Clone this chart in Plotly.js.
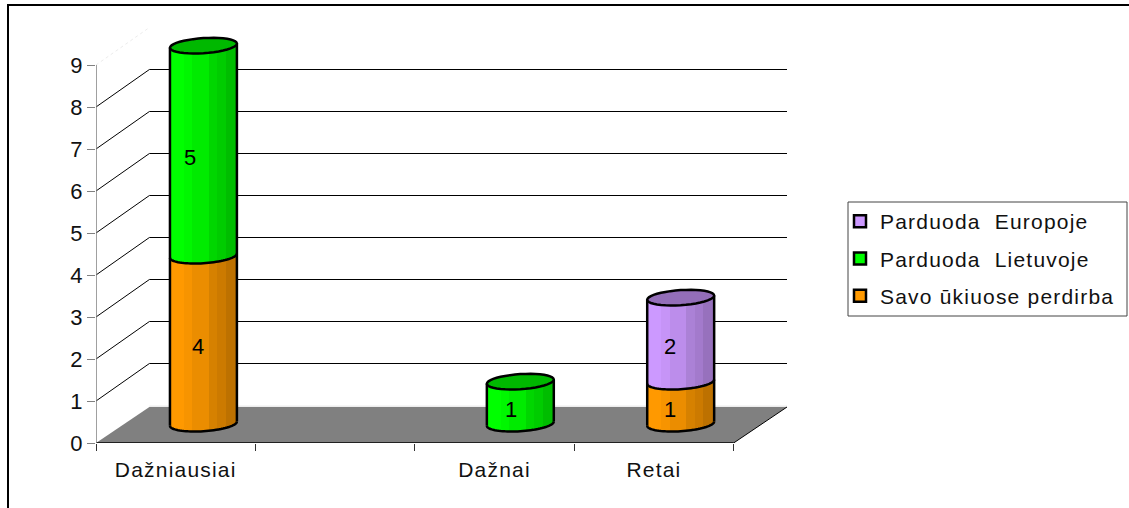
<!DOCTYPE html>
<html>
<head>
<meta charset="utf-8">
<script src="https://cdn.plot.ly/plotly-3.0.1.min.js"></script>
<style>
html,body{margin:0;padding:0;background:#fff;overflow:hidden}
#chart{width:1129px;height:508px}
.xtick text,.legendtext{letter-spacing:1.2px}
#chart .bars path{shape-rendering:crispEdges !important}
</style>
</head>
<body>
<div id="chart"></div>
<script>
// ---------- data ----------
const categories = ['Dažniausiai', ' ', 'Dažnai', 'Retai'];
const savo = [4, 0, 0, 1];
const lietuvoje = [5, 0, 1, 0];
const europoje = [0, 0, 0, 2];
const yTicks = [0, 1, 2, 3, 4, 5, 6, 7, 8, 9];
const seriesNames = ['Savo ūkiuose perdirba', 'Parduoda  Lietuvoje', 'Parduoda  Europoje'];
const seriesValues = [savo, lietuvoje, europoje];
const seriesRGB = [[255, 153, 0], [0, 255, 0], [204, 153, 255]];
const labelShiftSavo = [-0.035, 0, 0, -0.065];
const labelShiftLietuvoje = [-0.085, 0, -0.06, 0];
const labelShiftEuropoje = [0, 0, 0, -0.065];
const labelShifts = [labelShiftSavo, labelShiftLietuvoje, labelShiftEuropoje];

// ---------- pseudo-3D geometry, in axis units ----------
const depthX = 0.335, gridDepthY = 0.8929, floorDepthY = 0.857;
const barCentreShifts = [0.174, 0, 0.162, 0.168], barHalf = 0.21;
const capRy = 0.18, capTilt = 0.05, barBase = 0.46;
const N = 24;
const slotLo = -0.5, slotHi = categories.length - 0.5;
const bands = [[-1.0,1.0],[-0.55,0.97],[-0.3,0.92],[0.2,0.84],[0.45,0.80],[0.7,0.74]];
const shade = t => { let f = 1; bands.forEach(b => { if (t >= b[0]) f = b[1]; }); return f; };
const col = (rgb, f) => `rgb(${rgb.map(c => Math.round(c * f)).join(',')})`;

// ---------- traces ----------
const traces = [];
[2, 1, 0].forEach(s => traces.push({
  type: 'bar', name: seriesNames[s], legendgroup: seriesNames[s],
  x: [categories[0]], y: [null],
  marker: {color: col(seriesRGB[s], 1), line: {color: '#000', width: 2.5}}
}));
const cum = categories.map(() => 0);
const stackBase = seriesValues.map(v => {
  const b = cum.slice();
  v.forEach((d, i) => cum[i] += d);
  return b;
});
seriesValues.forEach((vals, s) => {
  for (let k = 0; k < N; k++) {
    const t = -1 + (2 * k + 1) / N;
    const curve = capTilt * t - capRy * Math.sqrt(1 - t * t);
    traces.push({
      type: 'bar', showlegend: false, legendgroup: seriesNames[s],
      x: categories, y: vals,
      base: stackBase[s].map(b => b + barBase + curve),
      width: 2 * barHalf / N * 1.15,
      offset: barCentreShifts.map(c => c + barHalf * (t - 1 / N)),
      marker: {color: col(seriesRGB[s], shade(t)), line: {width: 0}}
    });
  }
});

// ---------- scaffold shapes ----------
const shapes = [];
const line = (x0, y0, x1, y1, color, width, layer, dash) => shapes.push({
  type: 'line', xref: 'x', yref: 'y', x0, y0, x1, y1, layer: layer || 'below',
  line: {color, width, dash: dash || 'solid'}
});
shapes.push({
  type: 'path', xref: 'x', yref: 'y', layer: 'below', fillcolor: '#808080', line: {width: 0},
  path: `M${slotLo},0L${slotHi},0L${slotHi + depthX},${floorDepthY}L${slotLo + depthX},${floorDepthY}Z`
});
yTicks.forEach(v => {
  if (v === 0) return;
  const top = v === yTicks[yTicks.length - 1];
  const c = top ? '#ececec' : '#000';
  line(slotLo, v, slotLo + depthX, v + gridDepthY, c, 1, 'below', top ? 'dot' : 'solid');
  line(slotLo + depthX, v + gridDepthY, slotHi + depthX, v + gridDepthY, c, 1);
});
line(slotLo + depthX, floorDepthY + 0.02, slotHi + depthX, floorDepthY + 0.02, '#e4e4e4', 1);
line(slotLo, 0, slotHi, 0, '#000', 1.5);
line(slotHi, 0, slotHi + depthX, floorDepthY, '#000', 1);
line(slotLo, 0, slotLo, yTicks[yTicks.length - 1], '#808080', 1.5);

// ---------- cylinder outlines and caps ----------
const arc = (cx, cy, a, b) => {
  let p = '';
  for (let i = 0; i <= 40; i++) {
    const t = a + (b - a) * i / 40;
    p += (i ? 'L' : 'M') + (cx + barHalf * Math.cos(t)).toFixed(4) + ',' +
      (cy + capTilt * Math.cos(t) + capRy * Math.sin(t)).toFixed(4);
  }
  return p;
};
const outline = {color: '#000', width: 2.5};
categories.forEach((c, i) => {
  if (cum[i] === 0) return;
  const cx = i + barCentreShifts[i];
  const y0 = barBase, yTop = barBase + cum[i];
  let top = 0;
  seriesValues.forEach((v, s) => { if (v[i] > 0) top = s; });
  shapes.push({type: 'path', xref: 'x', yref: 'y', layer: 'above', line: outline,
    path: arc(cx, y0, Math.PI, 2 * Math.PI)});
  seriesValues.forEach((v, s) => {
    if (v[i] > 0 && s !== top) shapes.push({type: 'path', xref: 'x', yref: 'y', layer: 'above', line: outline,
      path: arc(cx, y0 + stackBase[s][i] + v[i], Math.PI, 2 * Math.PI)});
  });
  line(cx - barHalf, y0 - capTilt, cx - barHalf, yTop - capTilt, '#000', 2.5, 'above');
  line(cx + barHalf, y0 + capTilt, cx + barHalf, yTop + capTilt, '#000', 2.5, 'above');
  shapes.push({type: 'path', xref: 'x', yref: 'y', layer: 'above', line: outline,
    fillcolor: col(seriesRGB[top], 0.72),
    path: arc(cx, yTop, 0, 2 * Math.PI) + 'Z'});
});

// frame and legend box
const W = 1129, H = 508, L = 96, R = 787, T = 28, B = 443;
const px = x => (x - L) / (R - L), py = y => (B - y) / (B - T);
shapes.push({type: 'line', xref: 'paper', yref: 'paper', x0: px(7), y0: py(5), x1: px(W), y1: py(5), layer: 'above', line: {color: '#000', width: 2}});
shapes.push({type: 'line', xref: 'paper', yref: 'paper', x0: px(8), y0: py(4), x1: px(8), y1: py(H), layer: 'above', line: {color: '#000', width: 2}});
shapes.push({type: 'rect', xref: 'paper', yref: 'paper', x0: px(848), y0: py(202), x1: px(1127), y1: py(316), layer: 'above', line: {color: '#444', width: 1}});

// ---------- value labels ----------
const annotations = [];
seriesValues.forEach((v, s) => v.forEach((d, i) => {
  if (d > 0) annotations.push({
    x: i + barCentreShifts[i] + labelShifts[s][i], y: barBase + stackBase[s][i] + d / 2 - 0.16,
    xref: 'x', yref: 'y', text: String(d), showarrow: false,
    font: {family: 'Liberation Sans, Arial', size: 22, color: '#000'}
  });
}));

const font = {family: 'Liberation Sans, Arial, sans-serif', size: 22, color: '#111'};
Plotly.newPlot('chart', traces, {
  width: W, height: H, paper_bgcolor: '#fff', plot_bgcolor: 'rgba(0,0,0,0)',
  margin: {l: L, r: W - R, t: T, b: H - B, pad: 0, autoexpand: false},
  barmode: 'overlay', hovermode: false, font,
  xaxis: {
    type: 'category', categoryorder: 'array', categoryarray: categories, tickson: 'boundaries',
    range: [slotLo, slotHi + depthX], showgrid: false, zeroline: false, showline: false,
    ticks: 'outside', ticklen: 7, tickwidth: 1, tickcolor: '#333', tickfont: {...font, size: 21},
    ticklabelstandoff: 12, fixedrange: true
  },
  yaxis: {
    range: [0, (B - T) / 42], tickmode: 'array', tickvals: yTicks, ticktext: yTicks.map(String),
    showgrid: false, zeroline: false, showline: false, ticks: 'outside', ticklen: 8, tickwidth: 1,
    tickcolor: '#808080', tickfont: font, fixedrange: true
  },
  legend: {
    x: px(840), xanchor: 'left', y: py(201), yanchor: 'top', traceorder: 'grouped', tracegroupgap: 7,
    borderwidth: 0, bgcolor: 'rgba(0,0,0,0)', itemwidth: 30,
    font: {...font, size: 21}, itemclick: false, itemdoubleclick: false
  },
  shapes, annotations
}, {displayModeBar: false, staticPlot: true});
</script>
</body>
</html>
